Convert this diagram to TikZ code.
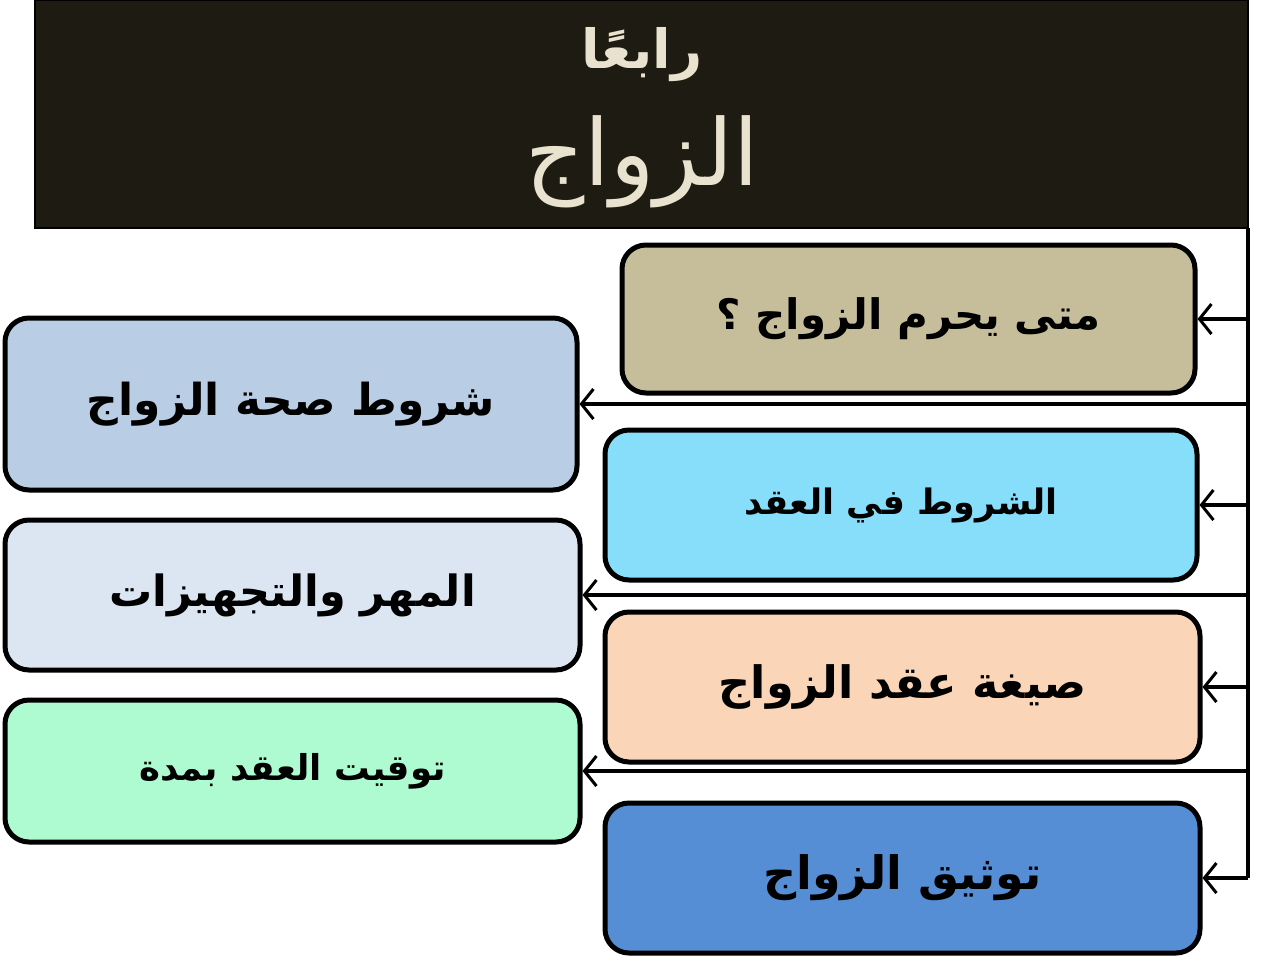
\documentclass[tikz,border=0pt]{standalone}
\usepackage{fontspec}
\setmainfont{DejaVu Sans}
\newfontfamily\arabicfont[Script=Arabic]{DejaVu Sans}
\TeXXeTstate=1
\usetikzlibrary{arrows.meta}
\definecolor{titlebg}{HTML}{1E1C12}
\definecolor{titlefg}{HTML}{E8E2CF}
\definecolor{cA}{HTML}{C6BE9A}
\definecolor{cB}{HTML}{87DEFB}
\definecolor{cC}{HTML}{FBD5B7}
\definecolor{cD}{HTML}{568ED5}
\definecolor{cE}{HTML}{B9CDE5}
\definecolor{cF}{HTML}{DCE6F2}
\definecolor{cG}{HTML}{AEFBD1}
\tikzset{
  box/.style={draw=black, line width=2.5pt, rounded corners=12pt, inner sep=0pt},
  fsz/.style={font=\arabicfont\bfseries\fontsize{#1}{#1}\selectfont},
  link/.style={draw=black, line width=2pt, -{Straight Barb[length=6pt,width=15pt,line width=1.5pt]}},
  trunk/.style={draw=black, line width=2pt}
}
\newcommand{\ar}[1]{\beginR #1\endR}
\begin{document}
\begin{tikzpicture}[x=0.5pt,y=-0.5pt]
\useasboundingbox (0,0) rectangle (1280,960);
\fill[white] (0,0) rectangle (1280,960);
% title
\node[fill=titlebg, draw=black, line width=1pt, minimum width=606.5pt, minimum height=114pt, inner sep=0pt] (title) at (641.5,114) {};
\node[text=titlefg, font=\arabicfont\bfseries\fontsize{27}{30}\selectfont] (t1) at (642,55) {\ar{رابعًا}};
\node[text=titlefg, font=\arabicfont\fontsize{46}{50}\selectfont] (t2) at (642,162) {\ar{الزواج}};
% right boxes
\node[box, fsz=21, fill=cA, minimum width=286.5pt, minimum height=74pt] (R1) at (908.5,319) {\ar{متى يحرم الزواج ؟}};
\node[box, fsz=17.5, fill=cB, minimum width=296pt, minimum height=75pt] (R2) at (901,505) {\ar{الشروط في العقد}};
\node[box, fsz=22.3, fill=cC, minimum width=297.5pt, minimum height=75pt] (R3) at (902.5,687) {\ar{صيغة عقد الزواج}};
\node[box, fsz=23, fill=cD, minimum width=297.5pt, minimum height=75pt] (R4) at (902.5,878) {\ar{توثيق الزواج}};
% left boxes
\node[box, fsz=22, fill=cE, minimum width=286pt, minimum height=86pt] (L1) at (291,404) {\ar{شروط صحة الزواج}};
\node[box, fsz=21.5, fill=cF, minimum width=287.5pt, minimum height=75pt] (L2) at (292.5,595) {\ar{المهر والتجهيزات}};
\node[box, fsz=17.8, fill=cG, minimum width=287.5pt, minimum height=71pt] (L3) at (292.5,771) {\ar{توقيت العقد بمدة}};
% connectors
\coordinate (top) at (1248,228);
\draw[trunk] (top) -- (top |- R4.east);
\draw[link] (top |- R1.east) -- (R1.east);
\draw[link] (top |- R2.east) -- (R2.east);
\draw[link] (top |- R3.east) -- (R3.east);
\draw[link] (top |- R4.east) -- (R4.east);
\draw[link] (top |- L1.east) -- (L1.east);
\draw[link] (top |- L2.east) -- (L2.east);
\draw[link] (top |- L3.east) -- (L3.east);
\end{tikzpicture}
\end{document}
